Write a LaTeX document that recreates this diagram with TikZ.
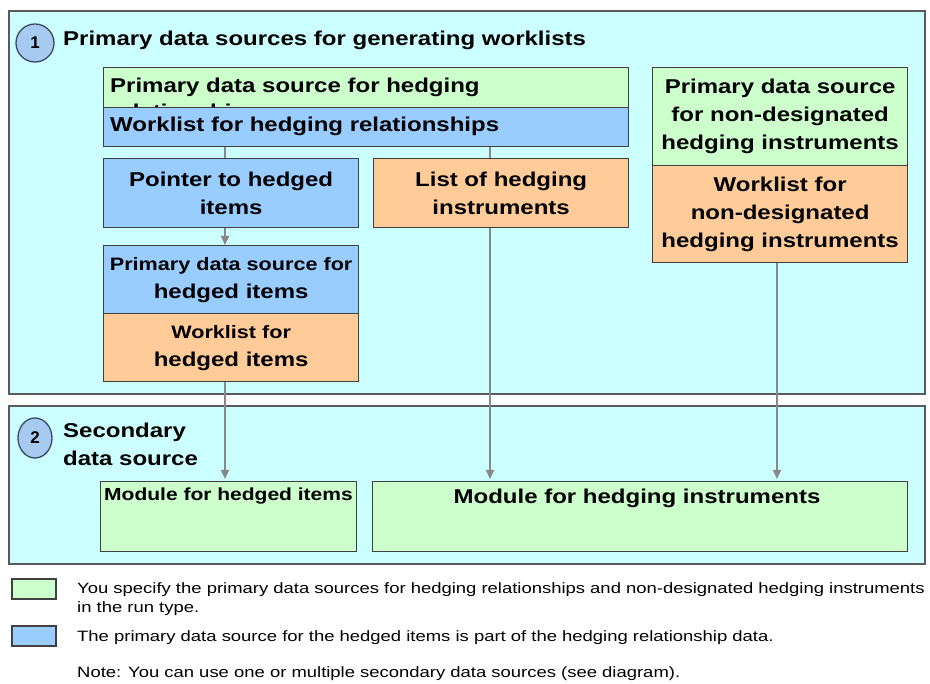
\documentclass[tikz,border=0pt]{standalone}
\usepackage{fontspec}
\setmainfont{Liberation Sans}
\newfontfamily\bxf{Liberation Sans}[FakeStretch=1.2]
\newfontfamily\lgf{Liberation Sans}[FakeStretch=1.23]
\usetikzlibrary{arrows.meta,calc,shapes.geometric}
\definecolor{cyanbg}{HTML}{CCFFFF}
\definecolor{grn}{HTML}{CCFFCC}
\definecolor{blu}{HTML}{99CCFF}
\definecolor{org}{HTML}{FFCC99}
\definecolor{framec}{HTML}{404040}
\definecolor{secframe}{HTML}{5A5A5A}
\definecolor{arrgray}{HTML}{888888}
\definecolor{circfill}{HTML}{A6CAF0}
\definecolor{circline}{HTML}{3A4A66}
\pgfdeclarelayer{bg}\pgfdeclarelayer{lines}\pgfsetlayers{bg,lines,main}
\begin{document}
\begin{tikzpicture}[x=1pt,y=-1pt,
  section/.style={draw=secframe, line width=1.6pt, fill=cyanbg, inner sep=0pt, anchor=north west},
  box/.style={draw=framec, line width=1.3pt, inner sep=0pt, anchor=north west, align=center,
    font=\bxf\bfseries\fontsize{20}{28}\selectfont},
  boxtext/.style={inner sep=0pt, font=\bxf\bfseries\fontsize{20}{28}\selectfont},
  numcirc/.style={ellipse, draw=circline, line width=1.3pt, fill=circfill, inner sep=0pt,
    font=\bfseries\fontsize{17}{20}\selectfont},
  title/.style={inner sep=0pt, anchor=west, align=left, font=\bxf\bfseries\fontsize{20}{28}\selectfont},
  legbox/.style={draw=framec, line width=1.6pt, inner sep=0pt, anchor=north west, minimum width=44pt, minimum height=20pt},
  legtext/.style={inner sep=0pt, anchor=north west, align=left, font=\lgf\fontsize{15}{19}\selectfont},
  arr/.style={draw=arrgray, line width=2pt, -{Triangle[length=9pt,width=8pt]}}
]
\useasboundingbox (0,0) rectangle (930,684);
% sections
\begin{pgfonlayer}{bg}
\node[section, minimum width=916pt, minimum height=383pt] (sec1) at (8,10) {};
\node[section, minimum width=916pt, minimum height=158pt] (sec2) at (8,405) {};
\end{pgfonlayer}
% section titles
\node[numcirc, minimum width=38pt, minimum height=38pt] (c1) at (35,43) {1};
\node[title] (t1) at (63,40) {Primary data sources for generating worklists};
\node[numcirc, minimum width=34pt, minimum height=40pt] (c2) at (35,438) {2};
\node[title, anchor=north west] (t2) at (63,423) {Secondary\\data source};
% hedging relationship source (second line hidden by the worklist box, as in the original)
\node[box, fill=grn, minimum width=525pt, minimum height=40pt] (pdshr) at (103,67) {};
\node[boxtext, anchor=north west, text width=470pt, align=left,
  font=\bxf\bfseries\fontsize{20}{26}\selectfont] (pdshrt) at (110,78)
  {Primary data source for hedging \mbox{relationships}};
\node[box, fill=blu, minimum width=525pt, minimum height=39pt] (wlrel) at (103,107) {};
\node[boxtext, anchor=west] (wlrelt) at (110,126.5) {Worklist for hedging relationships};
% pointer and list
\node[box, fill=blu, minimum width=255pt, minimum height=69pt] (ptr) at (103,158)
  {Pointer to hedged\\items};
\node[box, fill=org, minimum width=255pt, minimum height=69pt] (lhi) at (373,158)
  {List of hedging\\instruments};
% hedged items
\node[box, fill=blu, minimum width=255pt, minimum height=68pt] (pdshi) at (103,245)
  {\fontsize{18}{26}\selectfont Primary data source for\\hedged items};
\node[box, fill=org, minimum width=255pt, minimum height=68pt] (whi) at (103,313)
  {\fontsize{18}{25}\selectfont Worklist for\\hedged items};
% non-designated
\node[box, fill=grn, minimum width=255pt, minimum height=98pt] (pdsnd) at (652,67)
  {Primary data source\\for non-designated\\hedging instruments};
\node[box, fill=org, minimum width=255pt, minimum height=97pt] (wnd) at (652,165)
  {Worklist for\\non-designated\\hedging instruments};
% modules
\node[box, fill=grn, minimum width=256pt, minimum height=70pt] (modhi) at (100,481) {};
\node[boxtext, anchor=north west, font=\bxf\bfseries\fontsize{17.5}{20}\selectfont] (modhit) at (104,488) {Module for hedged items};
\node[box, fill=grn, minimum width=535pt, minimum height=70pt] (modhin) at (372,481) {};
\node[boxtext, anchor=north, font=\bxf\bfseries\fontsize{20}{24}\selectfont] (modhint) at (637,489) {Module for hedging instruments};
% connectors
\coordinate (xa) at (225,0);
\coordinate (xb) at (490,0);
\coordinate (xc) at (777,0);
\begin{pgfonlayer}{lines}
\draw[arr] (wlrel.south -| xa) -- (pdshi.north -| xa);
\draw[arr, shorten >=2pt] (whi.south -| xa) -- (modhi.north -| xa);
\draw[arr, shorten >=2pt] (wlrel.south -| xb) -- (modhin.north -| xb);
\draw[arr, shorten >=2pt] (wnd.south -| xc) -- (modhin.north -| xc);
\end{pgfonlayer}
% legend
\node[legbox, fill=grn] (lg1) at (11,578) {};
\node[legtext] (lg1t) at (77,582) {You specify the primary data sources for hedging relationships and non-designated hedging instruments\\in the run type.};
\node[legbox, fill=blu] (lg2) at (11,625) {};
\node[legtext] (lg2t) at (77,630) {The primary data source for the hedged items is part of the hedging relationship data.};
\node[legtext] (note) at (77,666) {Note: You can use one or multiple secondary data sources (see diagram).};
\end{tikzpicture}
\end{document}
